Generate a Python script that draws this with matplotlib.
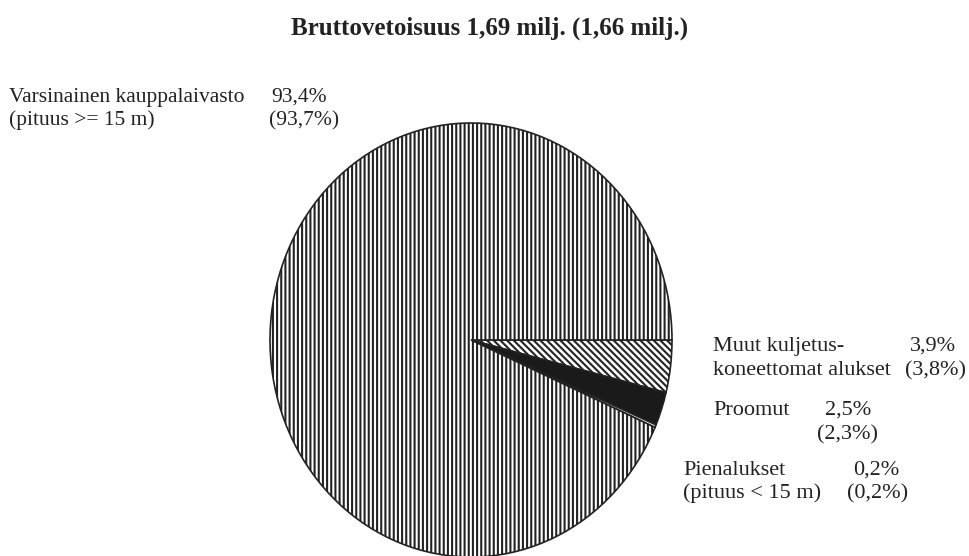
import matplotlib.pyplot as plt

# osuudet (%), järjestys myötäpäivään alkaen klo 3:sta
names = [["Muut kuljetus-", "koneettomat alukset"], ["Proomut"],
         ["Pienalukset", "(pituus < 15 m)"],
         ["Varsinainen kauppalaivasto", "(pituus >= 15 m)"]]
shares = [3.9, 2.5, 0.2, 93.4]
shares_prev = [3.8, 2.3, 0.2, 93.7]
hatches = ["\\\\\\\\\\", "", "", "||||"]
colors = ["white", "#1a1a1a", "white", "white"]

title = "Bruttovetoisuus 1,69 milj. (1,66 milj.)"

plt.rcParams['font.family'] = ['Liberation Serif', 'DejaVu Serif']
plt.rcParams['hatch.linewidth'] = 1.5
plt.rcParams['hatch.color'] = '#222222'

W, H = 969, 556
fig = plt.figure(figsize=(W / 100, H / 100), dpi=100)

# piirakka (hieman soikea kuten alkuperäisessä)
pl, pr, pt, pb = 270, 672, 123, 557
ax = fig.add_axes([pl / W, (H - pb) / H, (pr - pl) / W, (pb - pt) / H])
wedges, _ = ax.pie(shares, startangle=0, counterclock=False, colors=colors,
                   wedgeprops=dict(edgecolor='#222222', linewidth=1.2))
for w, h in zip(wedges, hatches):
    w.set_hatch(h)
    w.set_clip_on(False)
ax.set_aspect('auto')
ax.set_xlim(-1, 1)
ax.set_ylim(-1, 1)
ax.axis('off')

# tekstit pikselikoordinaateissa
tx = fig.add_axes([0, 0, 1, 1], facecolor='none')
tx.set_xlim(0, W)
tx.set_ylim(H, 0)
tx.axis('off')

c = '#222222'
tx.text(490, 28, title, ha='center', va='center', fontsize=18,
        fontweight='bold', color=c)

fs = 16


def label(x, y, lines, xv, cur, prev, xp, dy=24, size=fs):
    for i, s in enumerate(lines):
        tx.text(x, y + i * dy, s, ha='left', va='baseline', fontsize=size,
                color=c)
    tx.text(xv, y, f"{cur:.1f}%".replace('.', ','), ha='left',
            va='baseline', fontsize=size, color=c)
    tx.text(xp, y + dy, f"({prev:.1f}%)".replace('.', ','), ha='left',
            va='baseline', fontsize=size, color=c)


label(9, 102, names[3], 271, shares[3], shares_prev[3], 269, 23, 15.5)
label(713, 351, names[0], 910, shares[0], shares_prev[0], 905)
label(713, 415, names[1], 825, shares[1], shares_prev[1], 817)
label(683, 475, names[2], 853, shares[2], shares_prev[2], 847, 23)

fig.savefig("out.png", dpi=100)
